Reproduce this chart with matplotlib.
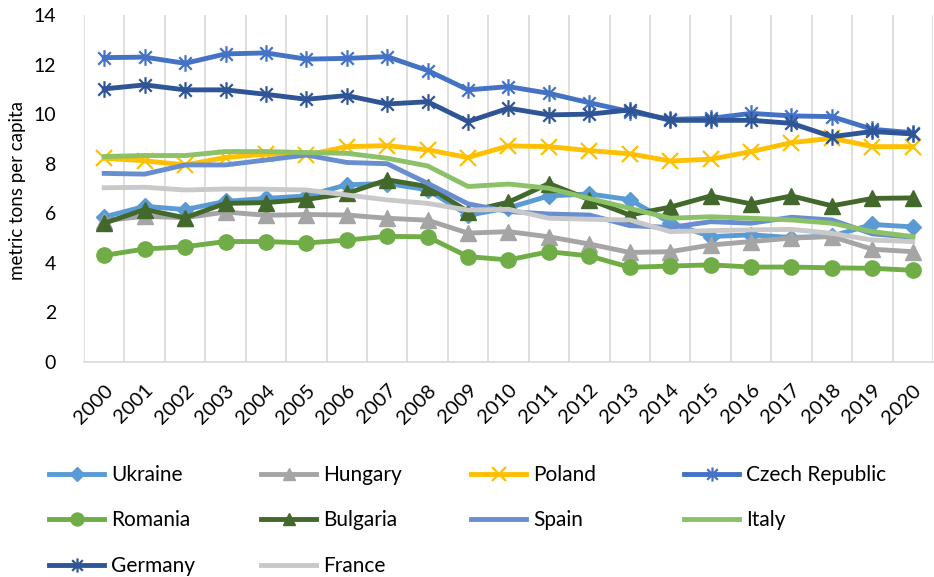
import matplotlib
matplotlib.use("Agg")
import matplotlib.pyplot as plt
from matplotlib.path import Path
from matplotlib.lines import Line2D

plt.rcParams['font.family'] = ['Lato', 'DejaVu Sans']

years = list(range(2000, 2021))
ukraine = [5.85, 6.28, 6.15, 6.48, 6.6, 6.7, 7.15, 7.2, 6.95, 5.92, 6.22, 6.7, 6.78, 6.55, 5.62, 5.06, 5.13, 5.02, 5.08, 5.55, 5.45]
hungary = [5.7, 5.88, 5.82, 6.05, 5.92, 5.95, 5.93, 5.8, 5.72, 5.2, 5.26, 5.05, 4.76, 4.42, 4.45, 4.72, 4.86, 5.0, 5.06, 4.55, 4.45]
poland = [8.22, 8.12, 7.95, 8.25, 8.39, 8.35, 8.69, 8.73, 8.56, 8.25, 8.72, 8.69, 8.53, 8.4, 8.11, 8.18, 8.49, 8.85, 9.03, 8.69, 8.69]
czech = [12.28, 12.3, 12.05, 12.43, 12.47, 12.22, 12.25, 12.32, 11.76, 10.98, 11.11, 10.84, 10.46, 10.1, 9.79, 9.83, 10.03, 9.93, 9.9, 9.39, 9.25]
romania = [4.3, 4.56, 4.65, 4.86, 4.86, 4.8, 4.92, 5.07, 5.05, 4.25, 4.12, 4.45, 4.28, 3.82, 3.87, 3.92, 3.83, 3.83, 3.8, 3.78, 3.7]
bulgaria = [5.6, 6.15, 5.82, 6.4, 6.43, 6.56, 6.8, 7.35, 7.08, 6.07, 6.45, 7.2, 6.55, 5.93, 6.25, 6.7, 6.38, 6.7, 6.3, 6.6, 6.62]
spain = [7.61, 7.58, 7.95, 7.95, 8.15, 8.35, 8.05, 8.0, 7.21, 6.38, 6.07, 5.97, 5.93, 5.5, 5.43, 5.66, 5.6, 5.84, 5.73, 5.17, 5.03]
italy = [8.29, 8.33, 8.33, 8.49, 8.49, 8.45, 8.42, 8.22, 7.91, 7.08, 7.18, 7.01, 6.6, 6.2, 5.8, 5.86, 5.8, 5.73, 5.6, 5.26, 5.06]
germany = [11.02, 11.18, 10.98, 10.98, 10.8, 10.6, 10.75, 10.41, 10.5, 9.7, 10.24, 9.97, 10.0, 10.17, 9.75, 9.75, 9.75, 9.63, 9.09, 9.3, 9.2]
france = [7.03, 7.05, 6.94, 6.98, 6.97, 6.94, 6.74, 6.54, 6.4, 6.13, 6.16, 5.8, 5.76, 5.73, 5.26, 5.3, 5.33, 5.35, 5.19, 4.92, 4.86]

star = Path([(0, -1), (0, 1), (-0.75, -0.75), (0.75, 0.75), (-0.75, 0.75), (0.75, -0.75)],
            [Path.MOVETO, Path.LINETO] * 3)

series = [
    ("Ukraine", ukraine, "#5B9BD5", "D", 8.5, 1),
    ("Hungary", hungary, "#A5A5A5", "^", 11, 1),
    ("Poland", poland, "#FFC000", "x", 12, 1.6),
    ("Czech Republic", czech, "#4472C4", star, 12, 1.6),
    ("Romania", romania, "#70AD47", "o", 11, 1),
    ("Bulgaria", bulgaria, "#43682B", "^", 11, 1),
    ("Spain", spain, "#698ED0", None, 0, 1),
    ("Italy", italy, "#8CC168", None, 0, 1),
    ("Germany", germany, "#2F5597", star, 12, 1.6),
    ("France", france, "#C9C9C9", None, 0, 1),
]

fig = plt.figure(figsize=(9.34, 5.77), dpi=100)
ax = fig.add_axes([84 / 934, 1 - 362 / 577, (933 - 84) / 934, (362 - 15) / 577])

x = list(range(len(years)))
handles = {}
for name, vals, col, mk, ms, mew in series:
    ln, = ax.plot(x, vals, color=col, lw=3.5, marker=mk, ms=ms,
                  markerfacecolor=col, markeredgecolor=col, markeredgewidth=mew,
                  solid_joinstyle='round', label=name)
    handles[name] = ln

ax.set_xlim(-0.5, len(years) - 0.5)
ax.set_ylim(0, 14)
ax.set_yticks(range(0, 15, 2))
ax.set_xticks(x)
ax.set_xticklabels([str(y) for y in years], rotation=45, ha='right', va='top',
                   rotation_mode='anchor', fontsize=14.5, color='#000000')
ax.tick_params(axis='x', length=0, pad=14)
ax.tick_params(axis='y', length=0, pad=20, labelsize=14, labelcolor='#000000')

for b in [i - 0.5 for i in range(len(years) + 1)]:
    ax.axvline(b, color='#D9D9D9', lw=1.2, zorder=0)
for s in ['top', 'right', 'left']:
    ax.spines[s].set_visible(False)
ax.spines['bottom'].set_color('#D9D9D9')
ax.spines['bottom'].set_linewidth(1.2)

fig.text(18 / 934, 1 - 190 / 577, "metric tons per capita", rotation=90,
         ha='center', va='center', fontsize=13.5)

cols = [["Ukraine", "Romania", "Germany"], ["Hungary", "Bulgaria", "France"],
        ["Poland", "Spain"], ["Czech Republic", "Italy"]]
col_x = [49, 261, 471, 684]
for cx, names in zip(col_x, cols):
    hs = []
    for n in names:
        h = handles[n]
        hs.append(Line2D([], [], color=h.get_color(), lw=3.5, marker=h.get_marker(),
                         ms=h.get_markersize() * 0.85, markerfacecolor=h.get_color(),
                         markeredgecolor=h.get_color(), markeredgewidth=h.get_markeredgewidth()))
    fig.legend(hs, names, loc='upper left', bbox_to_anchor=(cx / 934, 1 - 465 / 577),
               frameon=False, fontsize=15, handlelength=2.65, handletextpad=0.35,
               labelspacing=1.22, borderpad=0, borderaxespad=0, numpoints=1)

fig.savefig("out.png", dpi=100, facecolor='white')
